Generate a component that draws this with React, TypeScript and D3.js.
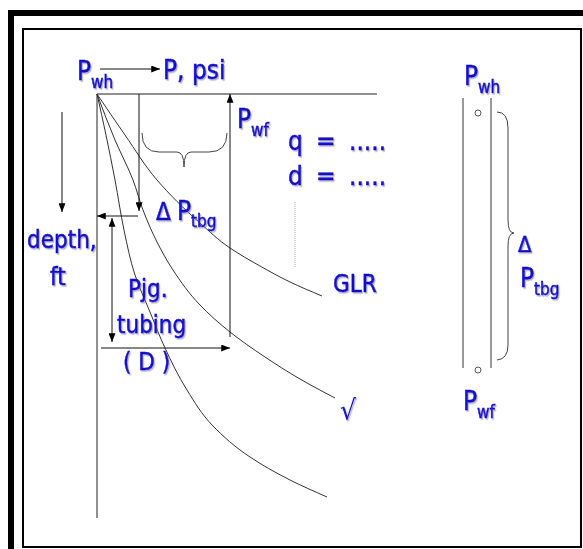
import React from "react";
import * as d3 from "d3";

// Coordinates in chart units: x = pressure (P, psi), y = depth (ft), origin at Pwh
const curveGLR: [number, number][] = [[0,0],[28,41],[60,86],[103,129],[133,154],[163,172],[193,188],[225,202]];
const curveRoot: [number, number][] = [[0,0],[18,46],[36,86],[46,116],[60,148],[76,176],[103,211],[133,238],[168,263],[203,285],[238,304]];
const curveInner: [number, number][] = [[0,0],[9,41],[18,86],[27,136],[38,181],[53,218],[68,254],[90,296],[116,332],[153,363],[193,386],[230,403]];
const curves = [curveGLR, curveRoot, curveInner];

// arrows: [x1,y1,x2,y2, doubleHeaded]
const arrows: [number, number, number, number, boolean][] = [
  [3, -25, 63, -25, false],
  [42, 0, 42, 117, false],
  [41, 122, 0, 122, false],
  [15, 124, 15, 248, true],
  [4, 254, 133, 254, false],
  [133, 243, 133, 0, false],
  [-35, 18, -35, 118, false],
];

const BLUE = "#1212c8";
const FONT = "'DejaVu Sans Condensed', 'DejaVu Sans', sans-serif";

export default function App() {
  const x = d3.scaleLinear().domain([0, 280]).range([97, 377]);
  const y = d3.scaleLinear().domain([0, 424]).range([94, 518]);
  const line = d3.line<[number, number]>().x(d => x(d[0])).y(d => y(d[1])).curve(d3.curveMonotoneY);

  const Label = ({ px, py, main, sub, size = 26, subSize = 17, subDy = 8, sw = 0.5 }: any) => (
    <text x={px} y={py} fill={BLUE} stroke={BLUE} strokeWidth={sw} fontFamily={FONT} fontSize={size} filter="url(#sh)">
      {main}
      {sub && <tspan fontSize={subSize} dy={subDy}>{sub}</tspan>}
    </text>
  );

  const hBrace = `M${x(45)},${y(39)} Q${x(45)},${y(58)} ${x(62)},${y(58)} L${x(80)},${y(58)} Q${x(87)},${y(58)} ${x(87)},${y(73)} Q${x(87)},${y(58)} ${x(94)},${y(58)} L${x(112)},${y(58)} Q${x(130)},${y(58)} ${x(130)},${y(39)}`;
  const vBrace = `M${x(400)},${y(18)} Q${x(411)},${y(18)} ${x(411)},${y(34)} L${x(411)},${y(126)} Q${x(411)},${y(139)} ${x(417)},${y(139)} Q${x(411)},${y(139)} ${x(411)},${y(152)} L${x(411)},${y(251)} Q${x(411)},${y(265)} ${x(400)},${y(266)}`;

  return (
    <svg width={583} height={549} style={{ position: "absolute", left: 0, top: 0, background: "#fff" }}>
      <defs>
        <marker id="ah" viewBox="0 0 10 8" refX={10} refY={4} markerWidth={9} markerHeight={7} markerUnits="userSpaceOnUse" orient="auto-start-reverse">
          <path d="M0,0 L10,4 L0,8 Z" fill="#000" />
        </marker>
        <filter id="sh" x="-10%" y="-10%" width="130%" height="140%">
          <feDropShadow dx={1.2} dy={1.5} stdDeviation={0.7} floodColor="#7a6aa0" floodOpacity={0.55} />
        </filter>
      </defs>
      {/* frames */}
      <line x1={11} y1={10} x2={11} y2={549} stroke="#000" strokeWidth={6} />
      <line x1={8} y1={13} x2={583} y2={13} stroke="#000" strokeWidth={6} />
      <rect x={23} y={29} width={558} height={518} fill="none" stroke="#000" strokeWidth={2} />

      {/* axes */}
      <line x1={x(0)} y1={y(0)} x2={x(280)} y2={y(0)} stroke="#222" strokeWidth={1} />
      <line x1={x(0)} y1={y(0)} x2={x(0)} y2={y(424)} stroke="#222" strokeWidth={1} />

      {/* curves */}
      {curves.map((c, i) => (
        <path key={i} d={line(c) || ""} fill="none" stroke="#333" strokeWidth={1} />
      ))}

      {/* arrows */}
      {arrows.map((a, i) => (
        <line key={i} x1={x(a[0])} y1={y(a[1])} x2={x(a[2])} y2={y(a[3])} stroke="#111" strokeWidth={1}
          markerEnd="url(#ah)" markerStart={a[4] ? "url(#ah)" : undefined} />
      ))}

      {/* braces */}
      <path d={hBrace} fill="none" stroke="#444" strokeWidth={1} />
      <path d={vBrace} fill="none" stroke="#444" strokeWidth={1} />

      {/* dotted line */}
      <line x1={x(198)} y1={y(108)} x2={x(198)} y2={y(174)} stroke="#aaa" strokeWidth={1} strokeDasharray="1,1" />

      {/* tubing */}
      <line x1={x(366)} y1={y(4)} x2={x(366)} y2={y(274)} stroke="#777" strokeWidth={1.5} />
      <line x1={x(394)} y1={y(4)} x2={x(394)} y2={y(274)} stroke="#777" strokeWidth={1.5} />
      <circle cx={x(381)} cy={y(19)} r={3} fill="#fff" stroke="#555" strokeWidth={1} />
      <circle cx={x(381)} cy={y(276)} r={3} fill="#fff" stroke="#555" strokeWidth={1} />

      {/* labels */}
      <Label px={77} py={80} main="P" sub="wh" />
      <Label px={163} py={79} main="P, psi" />
      <Label px={237} py={128} main="P" sub="wf" />
      <Label px={156} py={220} main="Δ" size={24} />
      <Label px={177} py={220} main="P" sub="tbg" subDy={7} />
      <Label px={288} py={150} main="q" />
      <Label px={316} py={150} main="=" />
      <Label px={349} py={150} main="....." />
      <Label px={288} py={185} main="d" />
      <Label px={316} py={185} main="=" />
      <Label px={349} py={185} main="....." />
      <Label px={27} py={248} main="depth," size={24} />
      <Label px={50} py={285} main="ft" size={24} />
      <Label px={128} py={297} main="Pjg." size={24} />
      <Label px={117} py={333} main="tubing" size={24} />
      <Label px={123} py={370} main="( D )" size={24} />
      <Label px={333} py={292} main="GLR" size={24} />
      <Label px={340} py={420} main="√" size={28} sw={0} />
      <Label px={464} py={85} main="P" sub="wh" />
      <Label px={518} py={252} main="Δ" size={22} />
      <Label px={520} py={287} main="P" sub="tbg" />
      <Label px={463} py={410} main="P" sub="wf" />
    </svg>
  );
}
